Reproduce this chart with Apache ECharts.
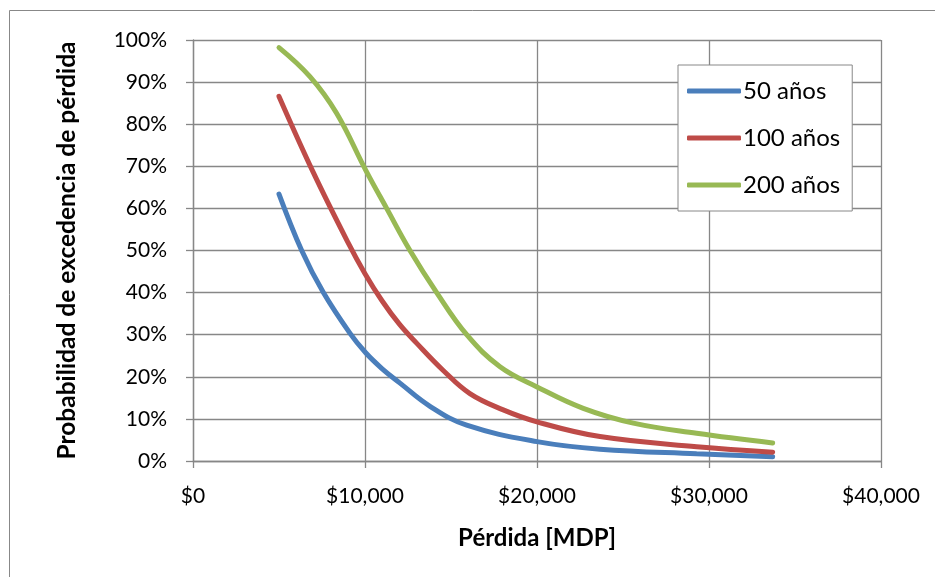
<!DOCTYPE html>
<html>
<head>
<meta charset="utf-8">
<script src="https://cdn.jsdelivr.net/npm/echarts@6/dist/echarts.min.js"></script>
<style>
  html, body { margin: 0; padding: 0; background: #fff; }
  #chart { width: 935px; height: 577px; }
</style>
</head>
<body>
<div id="chart"></div>
<script>
// Loss exceedance curves by exposure period
const seriesNames = ['50 años', '100 años', '200 años'];
const seriesColors = ['#4A7EBB', '#BE4B48', '#98B954'];

// [loss (MDP), exceedance probability]
const loss50 = [
  [5000, 0.634], [6320, 0.500], [7580, 0.400], [9130, 0.303], [10040, 0.257],
  [11000, 0.219], [12035, 0.185], [13780, 0.130], [15910, 0.085], [20000, 0.046],
  [23660, 0.028], [29280, 0.017], [33700, 0.010]
];
const loss100 = [
  [5000, 0.866], [7000, 0.685], [9000, 0.520], [10000, 0.445], [11000, 0.380],
  [12000, 0.325], [13000, 0.280], [14550, 0.215], [16100, 0.160], [18000, 0.122],
  [20000, 0.093], [23660, 0.058], [29280, 0.034], [33700, 0.021]
];
const loss200 = [
  [5000, 0.982], [6800, 0.913], [8350, 0.826], [10040, 0.691], [11260, 0.600],
  [12616, 0.500], [14168, 0.400], [15913, 0.300], [17850, 0.224], [20000, 0.176],
  [22690, 0.125], [25600, 0.090], [29280, 0.066], [33700, 0.043]
];
const seriesData = [loss50, loss100, loss200];

const xTicks = { min: 0, max: 40000, interval: 10000 };
const yTicks = { min: 0, max: 1, interval: 0.1 };

const font = 'Lato, "Open Sans", sans-serif';
const gridColor = '#878787';

const chart = echarts.init(document.getElementById('chart'));
chart.setOption({
  backgroundColor: '#fff',
  animation: false,
  graphic: [{
    type: 'rect',
    shape: { x: 9.5, y: 10.5, width: 1000, height: 1000 },
    style: { fill: 'none', stroke: '#888', lineWidth: 1 },
    silent: true
  }],
  grid: { left: 193, right: 54, top: 40, bottom: 116 },
  legend: {
    left: 678, top: 65,
    orient: 'vertical',
    itemWidth: 54, itemHeight: 5, itemGap: 21,
    padding: [13, 12, 13, 9],
    borderColor: '#888', borderWidth: 1,
    backgroundColor: '#fff',
    data: seriesNames.map((n, i) => ({ name: n, icon: 'roundRect', itemStyle: { color: seriesColors[i] } })),
    textStyle: { fontFamily: font, fontSize: 24, color: '#000', padding: [0, 0, 0, -3], lineHeight: 26 }
  },
  xAxis: {
    type: 'value',
    min: xTicks.min, max: xTicks.max, interval: xTicks.interval,
    name: 'Pérdida [MDP]', nameLocation: 'middle', nameGap: 65,
    nameTextStyle: { fontFamily: font, fontSize: 24, fontWeight: 'bold', color: '#000' },
    axisLine: { show: true, lineStyle: { color: gridColor, width: 1.3 } },
    axisTick: { show: true, length: 7, lineStyle: { color: gridColor, width: 1.3 } },
    axisLabel: {
      fontFamily: font, fontSize: 21, color: '#000', margin: 25,
      formatter: v => '$' + v.toLocaleString('en-US')
    },
    splitLine: { show: true, lineStyle: { color: gridColor, width: 1.3 } }
  },
  yAxis: {
    type: 'value',
    min: yTicks.min, max: yTicks.max, interval: yTicks.interval,
    name: 'Probabilidad de excedencia de pérdida', nameLocation: 'middle', nameGap: 113,
    nameRotate: 90,
    nameTextStyle: { fontFamily: font, fontSize: 24.5, fontWeight: 'bold', color: '#000' },
    axisLine: { show: true, lineStyle: { color: gridColor, width: 1.3 } },
    axisTick: { show: true, length: 7, lineStyle: { color: gridColor, width: 1.3 } },
    axisLabel: {
      fontFamily: font, fontSize: 21, color: '#000', margin: 26,
      formatter: v => Math.round(v * 100) + '%'
    },
    splitLine: { show: true, lineStyle: { color: gridColor, width: 1.3 } }
  },
  series: seriesData.map((d, i) => ({
    name: seriesNames[i],
    type: 'line',
    data: d,
    smooth: 0.4,
    showSymbol: false,
    color: seriesColors[i],
    lineStyle: { width: 5, color: seriesColors[i], cap: 'round' }
  }))
});
</script>
</body>
</html>
